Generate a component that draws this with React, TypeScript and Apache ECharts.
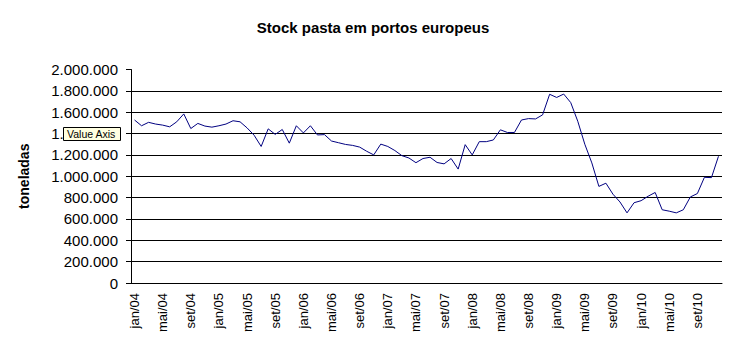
import React, { useEffect, useRef } from "react";
import * as echarts from "echarts";

const monthNames = ["jan", "fev", "mar", "abr", "mai", "jun", "jul", "ago", "set", "out", "nov", "dez"];
const years = ["04", "05", "06", "07", "08", "09", "10"];
const categories: string[] = [];
years.forEach((y) => monthNames.forEach((m) => categories.push(`${m}/${y}`)));

const stockValues = [
  1527000, 1473000, 1505000, 1489000, 1479000, 1463000, 1510000, 1584000, 1447000, 1495000, 1470000, 1460000,
  1473000, 1489000, 1520000, 1510000, 1453000, 1384000, 1279000, 1444000, 1392000, 1438000, 1310000, 1473000,
  1406000, 1473000, 1387000, 1390000, 1330000, 1314000, 1298000, 1289000, 1273000, 1234000, 1200000, 1301000,
  1279000, 1241000, 1193000, 1171000, 1127000, 1166000, 1178000, 1129000, 1116000, 1166000, 1067000, 1296000,
  1200000, 1324000, 1324000, 1340000, 1435000, 1410000, 1410000, 1527000, 1540000, 1537000, 1575000, 1768000,
  1738000, 1770000, 1690000, 1515000, 1300000, 1125000, 905000, 935000, 832000, 759000, 657000, 752000,
  771000, 813000, 848000, 686000, 673000, 657000, 686000, 806000, 838000, 990000, 987000, 1187000,
];

const yTicks = [0, 200000, 400000, 600000, 800000, 1000000, 1200000, 1400000, 1600000, 1800000, 2000000];

const fmt = (v: number) => String(Math.round(v)).replace(/\B(?=(\d{3})+(?!\d))/g, ".");

export default function App() {
  const ref = useRef<HTMLDivElement>(null);
  useEffect(() => {
    if (!ref.current) return;
    const chart = echarts.init(ref.current, undefined, { renderer: "svg" });
    const font = "'Liberation Sans', Arial, sans-serif";
    chart.setOption({
      animation: false,
      backgroundColor: "#ffffff",
      title: {
        text: "Stock pasta em portos europeus",
        left: 368,
        textAlign: "center",
        top: 15,
        textStyle: { fontFamily: font, fontSize: 15, fontWeight: "bold", color: "#000" },
      },
      grid: { left: 131, right: 10, top: 69.5, bottom: 76, containLabel: false },
      xAxis: {
        type: "category",
        data: categories,
        boundaryGap: true,
        axisLine: { lineStyle: { color: "#000", width: 1 } },
        axisTick: { interval: 0, length: 5, lineStyle: { color: "#000" } },
        axisLabel: {
          interval: 3,
          rotate: 90,
          margin: 10,
          fontFamily: font,
          fontSize: 13,
          color: "#000",
        },
        splitLine: { show: false },
      },
      yAxis: {
        type: "value",
        min: yTicks[0],
        max: yTicks[yTicks.length - 1],
        interval: yTicks[1] - yTicks[0],
        name: "toneladas",
        nameLocation: "middle",
        nameGap: 100,
        nameTextStyle: { fontFamily: font, fontSize: 14, fontWeight: "bold", color: "#000" },
        axisLine: { show: true, lineStyle: { color: "#000", width: 1 } },
        axisTick: { show: true, length: 5, lineStyle: { color: "#000" } },
        axisLabel: { margin: 13, fontFamily: font, fontSize: 15, color: "#000", formatter: (v: number) => fmt(v) },
        splitLine: { show: false },
      },
      series: [
        {
          type: "line",
          data: stockValues,
          symbol: "none",
          lineStyle: { color: "#000080", width: 1 },
          z: 3,
          markLine: {
            silent: true,
            symbol: "none",
            label: { show: false },
            lineStyle: { color: "#000", width: 1, type: "solid" },
            z: 1,
            data: yTicks.slice(1, -1).map((v) => ({ yAxis: v })),
          },
        },
      ],
      graphic: [
        {
          type: "rect",
          left: 63,
          top: 127,
          z: 100,
          zlevel: 1,
          shape: { x: 0, y: 0, width: 57, height: 13 },
          style: { fill: "#ffffe1", stroke: "#000", lineWidth: 1 },
        },
        {
          type: "text",
          left: 67,
          top: 128.5,
          z: 101,
          zlevel: 1,
          style: { text: "Value Axis", fontFamily: font, fontSize: 10.5, fill: "#000" },
        },
      ],
    });
    return () => chart.dispose();
  }, []);
  return <div ref={ref} style={{ position: "fixed", left: 0, top: 0, width: 732, height: 359 }} />;
}
